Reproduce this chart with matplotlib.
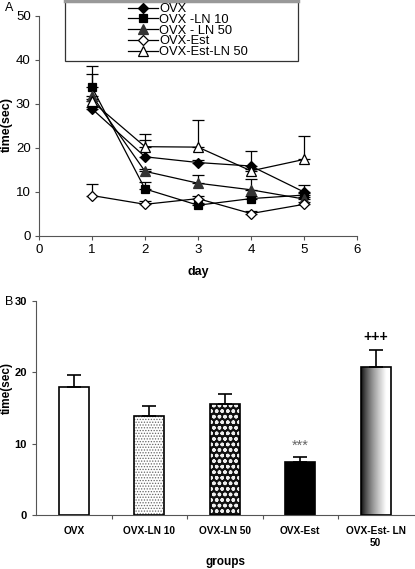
import matplotlib
matplotlib.use("Agg")
import matplotlib.pyplot as plt
import numpy as np
from matplotlib.patches import Rectangle
from matplotlib.lines import Line2D

plt.rcParams['font.family'] = ['Liberation Sans', 'DejaVu Sans']

# ---- Panel A data ----
days = [1, 2, 3, 4, 5]
series_names = ["OVX", "OVX -LN 10", "OVX - LN 50", "OVX-Est", "OVX-Est-LN 50"]
ovx = [28.9, 18.0, 16.7, 15.9, 10.0]
ovx_err = [0.5, 3.9, 0.5, 3.4, 1.5]
ln10 = [33.8, 10.7, 7.0, 8.5, 9.3]
ln10_err = [3.0, 1.6, 0.5, 0.5, 0.5]
ln50 = [31.9, 14.7, 12.0, 10.5, 8.4]
ln50_err = [6.7, 0.5, 1.9, 2.5, 0.5]
est = [9.2, 7.2, 8.5, 5.1, 7.2]
est_err = [2.6, 0.8, 0.5, 0.5, 0.5]
estln50 = [30.6, 20.3, 20.2, 14.8, 17.4]
estln50_err = [0.5, 2.8, 6.2, 0.5, 5.4]

# ---- Panel B data ----
groups = ["OVX", "OVX-LN 10", "OVX-LN 50", "OVX-Est", "OVX-Est- LN\n50"]
group_means = [18.0, 13.9, 15.5, 7.5, 20.7]
group_err = [1.6, 1.4, 1.4, 0.7, 2.5]
annotations = ["", "", "", "***", "+++"]

W, H = 415, 569
fig = plt.figure(figsize=(W / 100, H / 100), dpi=100)

# ---------------- Panel A ----------------
axA = fig.add_axes([39 / W, 1 - 236 / H, (357 - 39) / W, (236 - 16) / H])
styles = [
    dict(marker='D', mfc='black', mec='black', ms=5.5),
    dict(marker='s', mfc='black', mec='black', ms=6),
    dict(marker='^', mfc='#333333', mec='#333333', ms=7),
    dict(marker='D', mfc='white', mec='black', ms=5.5),
    dict(marker='^', mfc='white', mec='black', ms=7),
]
data = [(ovx, ovx_err), (ln10, ln10_err), (ln50, ln50_err), (est, est_err), (estln50, estln50_err)]
handles = []
for (vals, errs), st, name in zip(data, styles, series_names):
    axA.errorbar(days, vals, yerr=[[0] * len(errs), errs], color='black', lw=0.9,
                 elinewidth=0.9, capsize=4, capthick=0.9, mew=0.9, zorder=3, **st)
    handles.append(Line2D([0], [0], color='black', lw=0.9, mew=0.9, **st))

axA.set_xlim(0, 6)
axA.set_ylim(0, 50)
axA.set_xticks(range(0, 7))
axA.set_yticks(range(0, 51, 10))
for s in ['top', 'right']:
    axA.spines[s].set_visible(False)
for s in ['left', 'bottom']:
    axA.spines[s].set_color('#555555')
    axA.spines[s].set_linewidth(0.8)
axA.tick_params(direction='out', length=3, width=0.8, color='#555555', labelsize=9.5, pad=3)
fig.text(198 / W, 1 - 272 / H, "day", fontsize=9, fontweight='bold', ha='center', va='center')
fig.text(7 / W, 1 - 125 / H, "time(sec)", fontsize=9, fontweight='bold', ha='center',
         va='center', rotation=90)

# legend box
fig.patches.append(Rectangle((65 / W, 1 - 61 / H), (298 - 65) / W, 60 / H, transform=fig.transFigure,
                             fill=True, facecolor='white', edgecolor='#333333', lw=0.9, zorder=5))
fig.lines.append(Line2D([65 / W, 298 / W], [1 - 1 / H, 1 - 1 / H], transform=fig.transFigure,
                        color='#999999', lw=2.5, zorder=6))
leg = fig.legend(handles, series_names, loc='upper left', bbox_to_anchor=(119 / W, 1 + 6 / H),
                 frameon=False, fontsize=9.3, handlelength=2.3, handletextpad=0.12,
                 labelspacing=-0.1, borderpad=0.2)
leg.set_zorder(7)

fig.text(5 / W, 1 - 8 / H, "A", fontsize=9, va='center', ha='left')

# ---------------- Panel B ----------------
axB = fig.add_axes([36 / W, 1 - 515 / H, (413.5 - 36) / W, (515 - 301) / H])
x = np.arange(len(groups))
bw = 0.4
# OVX: white
axB.bar(x[0], group_means[0], bw, color='white', edgecolor='black', lw=1.2, zorder=2)
# LN10: dotted
p1 = axB.bar(x[1], group_means[1], bw, color='white', edgecolor='#666666', hatch='......', lw=0, zorder=2)[0]
axB.bar(x[1], group_means[1], bw, color='none', edgecolor='black', lw=1.2, zorder=3)
# LN50: dark with white circles
p2 = axB.bar(x[2], group_means[2], bw, color='#111111', edgecolor='#eeeeee', hatch='ooo', lw=0, zorder=2)[0]
axB.bar(x[2], group_means[2], bw, color='none', edgecolor='black', lw=1.2, zorder=3)
for p, hl in ((p1, 0.6), (p2, 1.0)):
    if hasattr(p, 'set_hatch_linewidth'):
        p.set_hatch_linewidth(hl)
# Est: black
axB.bar(x[3], group_means[3], bw, color='black', edgecolor='black', lw=1.2, zorder=2)
# EstLN50: gradient
b = axB.bar(x[4], group_means[4], bw, color='none', edgecolor='black', lw=1.2, zorder=3)[0]
grad = np.linspace(0, 1, 256) ** 0.7
grad = np.minimum(grad * 1.15, 1.0)
im = axB.imshow(grad[np.newaxis, :], cmap='gray', vmin=0, vmax=1, aspect='auto',
                extent=[x[4] - bw / 2, x[4] + bw / 2, 0, group_means[4]], zorder=2)
im.set_clip_path(b)

axB.errorbar(x, group_means, yerr=[[0] * len(group_err), group_err], fmt='none', ecolor='black',
             elinewidth=1.2, capsize=5, capthick=1.2, zorder=4)
for xi, m, e, a in zip(x, group_means, group_err, annotations):
    if a == '***':
        axB.text(xi, m + e + 1.5, a, ha='center', va='center', fontsize=10.5, color='#666666')
    elif a:
        axB.text(xi, m + e + 1.8, a, ha='center', va='center', fontsize=10, color='black',
                 fontweight='bold')

axB.set_xlim(-0.5, len(groups) - 0.5)
axB.set_ylim(0, 30)
axB.set_yticks([0, 10, 20, 30])
axB.set_xticks(x)
axB.set_xticklabels(groups, fontsize=7.3, fontweight='bold', va='top')
axB.set_xticks(np.arange(0.5, len(groups) - 0.5, 1), minor=True)
axB.tick_params(axis='x', which='major', length=0, pad=8)
axB.tick_params(axis='x', which='minor', length=3, width=0.8, direction='out', color='#555555')
axB.tick_params(axis='y', length=3, width=0.8, direction='out', color='#555555', labelsize=8)
for lab in axB.get_yticklabels():
    lab.set_fontweight('bold')
for s in ['top', 'right']:
    axB.spines[s].set_visible(False)
for s in ['left', 'bottom']:
    axB.spines[s].set_color('#555555')
    axB.spines[s].set_linewidth(0.8)
fig.text(225 / W, 1 - 562 / H, "groups", fontsize=8.5, fontweight='bold', ha='center', va='center')
fig.text(7 / W, 1 - 388 / H, "time(sec)", fontsize=8.5, fontweight='bold', ha='center',
         va='center', rotation=90)
fig.text(5 / W, 1 - 302 / H, "B", fontsize=9, va='center', ha='left')

fig.savefig("out.png", dpi=100)
